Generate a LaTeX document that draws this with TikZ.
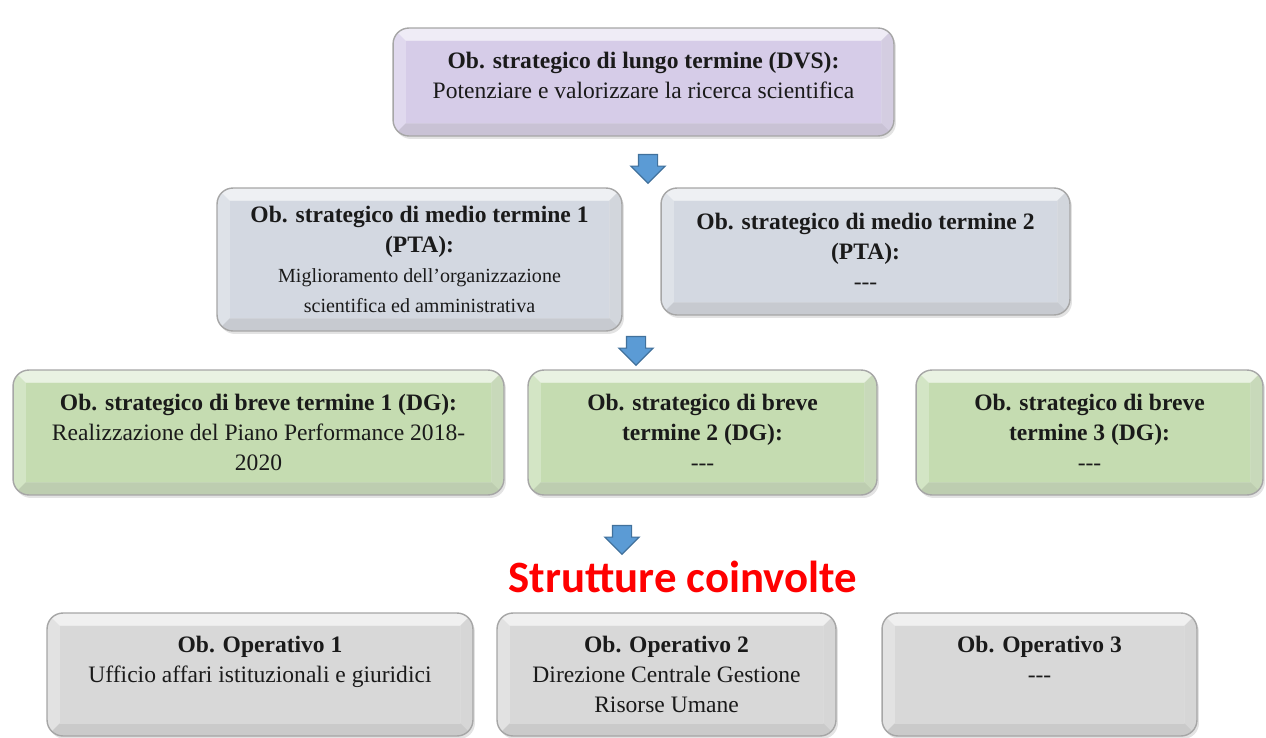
\documentclass[tikz,border=0pt]{standalone}
\usepackage{fontspec}
\setmainfont{Liberation Serif}
\newfontfamily\carlito{Carlito}
\usepackage{tikz}
\usetikzlibrary{shapes.arrows,shadows}
\definecolor{ObPurple}{HTML}{D6CCE8}
\definecolor{ObSteel}{HTML}{D3D8E1}
\definecolor{ObGreen}{HTML}{C5DCB1}
\definecolor{ObGray}{HTML}{D8D8D8}
\definecolor{ObArrow}{HTML}{5B9BD5}
\definecolor{ObArrowEdge}{HTML}{41719C}
\definecolor{ObRed}{HTML}{FF0000}
\definecolor{ObText}{HTML}{1A1A1A}
\newcommand{\bevelsep}{0.25cm}
\newcommand{\smalltxt}{\fontsize{11.4}{14.7}\selectfont}
\tikzset{
  bevelbox/.style={rounded corners=3.2mm,draw=black!35,line width=0.8pt,fill=#1!75!white,align=center,inner sep=0pt,text=ObText,
    font=\fontsize{13.4}{17}\selectfont,
    drop shadow={opacity=0.22,shadow xshift=0.4mm,shadow yshift=-0.6mm},
    path picture={
      \fill[white,opacity=0.5,sharp corners] (path picture bounding box.north west) -- (path picture bounding box.north east)
        -- ([shift={(-\bevelsep,-\bevelsep)}]path picture bounding box.north east) -- ([shift={(\bevelsep,-\bevelsep)}]path picture bounding box.north west) -- cycle;
      \fill[black,opacity=0.10,sharp corners] (path picture bounding box.south west) -- (path picture bounding box.south east)
        -- ([shift={(-\bevelsep,\bevelsep)}]path picture bounding box.south east) -- ([shift={(\bevelsep,\bevelsep)}]path picture bounding box.south west) -- cycle;
      \fill[black,opacity=0.05,sharp corners] (path picture bounding box.north east) -- (path picture bounding box.south east)
        -- ([shift={(-\bevelsep,\bevelsep)}]path picture bounding box.south east) -- ([shift={(-\bevelsep,-\bevelsep)}]path picture bounding box.north east) -- cycle;
      \fill[#1,sharp corners] ([shift={(\bevelsep,-\bevelsep)}]path picture bounding box.north west) rectangle ([shift={(-\bevelsep,\bevelsep)}]path picture bounding box.south east);
    }},
  lungobox/.style={bevelbox=ObPurple,minimum width=10.02cm,minimum height=2.16cm},
  mediobox/.style={bevelbox=ObSteel,minimum height=2.6cm},
  brevebox/.style={bevelbox=ObGreen,minimum height=2.5cm},
  opbox/.style={bevelbox=ObGray,minimum height=2.46cm},
  downarrow/.style={single arrow,shape border rotate=270,draw=ObArrowEdge,fill=ObArrow,line width=0.7pt,
    minimum width=6.6mm,minimum height=5.6mm,single arrow head extend=1.5mm,inner sep=1.8mm},
  redtitle/.style={font=\carlito\bfseries\fontsize{25.5}{30}\selectfont,text=ObRed}
}
\begin{document}
\begin{tikzpicture}[x=0.02cm,y=-0.02cm]
\useasboundingbox[fill=white] (0,0) rectangle (1266,737);
% livello strategico
\node[lungobox] (lungo) at (643.5,82) {\textbf{Ob. strategico di lungo termine (DVS):}\\Potenziare e valorizzare la ricerca scientifica\\[-9pt]\mbox{}};
\node[downarrow] (freccia1) at (648,164) {};
\node[mediobox,minimum width=8.1cm,minimum height=2.86cm] (medio1) at (419.5,259.5) {\textbf{Ob. strategico di medio termine 1}\\\textbf{(PTA):}\\\smalltxt Miglioramento dell'organizzazione\\\smalltxt scientifica ed amministrativa};
\node[mediobox,minimum width=8.18cm,minimum height=2.54cm] (medio2) at (865.5,251.5) {\textbf{Ob. strategico di medio termine 2}\\\textbf{(PTA):}\\-{}-{}-};
\node[downarrow] (freccia2) at (636,346) {};
\node[brevebox,minimum width=9.82cm] (breve1) at (258.5,432.5) {\textbf{Ob. strategico di breve termine 1 (DG):}\\Realizzazione del Piano Performance 2018-\\2020};
\node[brevebox,minimum width=6.98cm] (breve2) at (702.5,432.5) {\textbf{Ob. strategico di breve}\\\textbf{termine 2 (DG):}\\-{}-{}-};
\node[brevebox,minimum width=6.94cm] (breve3) at (1089.5,432.5) {\textbf{Ob. strategico di breve}\\\textbf{termine 3 (DG):}\\-{}-{}-};
\node[downarrow] (freccia3) at (622,535) {};
\node[redtitle] (strutture) at (683,577) {Strutture coinvolte};
% obiettivi operativi
\node[opbox,minimum width=8.52cm] (op1) at (260,674.5) {\textbf{Ob. Operativo 1}\\Ufficio affari istituzionali e giuridici\\\mbox{}};
\node[opbox,minimum width=6.78cm] (op2) at (666.5,674.5) {\textbf{Ob. Operativo 2}\\Direzione Centrale Gestione\\Risorse Umane};
\node[opbox,minimum width=6.3cm] (op3) at (1039.5,674.5) {\textbf{Ob. Operativo 3}\\-{}-{}-\\\mbox{}};
\end{tikzpicture}
\end{document}
